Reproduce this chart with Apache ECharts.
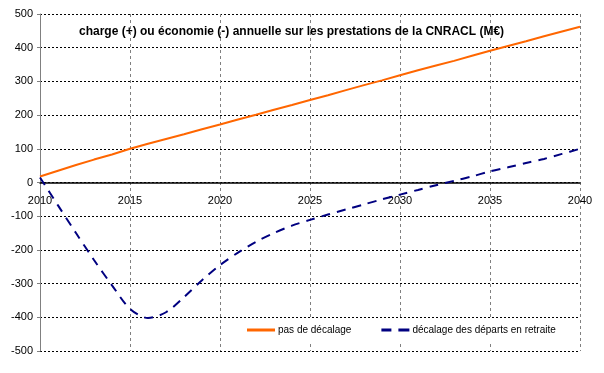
<!DOCTYPE html>
<html><head><meta charset="utf-8">
<script src="https://cdn.jsdelivr.net/npm/echarts@6/dist/echarts.min.js"></script>
<style>html,body{margin:0;padding:0;background:#fff}#c{width:604px;height:373px}</style>
</head><body><div id="c"></div>
<script>
const years = [2010,2011,2012,2013,2014,2015,2016,2017,2018,2019,2020,2021,2022,2023,2024,2025,2026,2027,2028,2029,2030,2031,2032,2033,2034,2035,2036,2037,2038,2039,2040];
const pasDecalage = [18,35,52,68,83,100,115,129,143,158,172,187,201,216,230,245,259,274,289,303,318,333,347,361,376,391,405,419,434,448,462];
const decalageDeparts = [15,-68,-150,-230,-305,-375,-402,-385,-340,-290,-245,-208,-176,-150,-128,-111,-95,-80,-65,-50,-36,-22,-8,5,18,33,45,58,70,85,100];
const yTicks = [-500,-400,-300,-200,-100,0,100,200,300,400,500];
const seriesNames = ['pas de décalage','décalage des départs en retraite'];
const titleText = 'charge (+) ou économie (-) annuelle sur les prestations de la CNRACL (M€)';

const chart = echarts.init(document.getElementById('c'), null, {renderer:'canvas'});
const font = 'Arial, "Liberation Sans", sans-serif';
const plotH = 373 - 14 - 22;
const zeroOffset = -plotH * (0 - yTicks[0]) / (yTicks[yTicks.length-1] - yTicks[0]);
chart.setOption({
  animation:false,
  backgroundColor:'#fff',
  grid:{left:40,right:24,top:14,bottom:22,containLabel:false},
  title:{text:titleText,left:74,top:21,textStyle:{fontFamily:font,fontSize:12,fontWeight:'bold',color:'#000'}},
  legend:{
    left:235, top:319, width:345, height:16,
    padding:[6,12,6,12],
    backgroundColor:'#fff',
    itemWidth:28, itemHeight:3, itemGap:30,
    textStyle:{fontFamily:font,fontSize:10,color:'#000',padding:[0,0,0,-2]},
    data:[
      {name:seriesNames[0],icon:'rect',itemStyle:{color:'#FF6600'}},
      {name:seriesNames[1],icon:'path://M0,0h10v3h-10z M17,0h11v3h-11z',itemStyle:{color:'#000080'}}
    ]
  },
  xAxis:{type:'value',min:2010,max:2040,interval:5,
    offset:zeroOffset,
    axisLine:{onZero:false,lineStyle:{color:'#000',width:1.5}},
    axisTick:{show:false},
    axisLabel:{fontFamily:font,fontSize:11,color:'#000',margin:13,formatter:v=>String(v)},
    splitLine:{show:true,lineStyle:{color:'#808080',type:[3,3],width:1}}
  },
  yAxis:{type:'value',min:-500,max:500,interval:100,
    axisLine:{show:true,onZero:false,lineStyle:{color:'#808080',width:1}},
    axisTick:{show:true,length:3,lineStyle:{color:'#808080'}},
    axisLabel:{fontFamily:font,fontSize:11,color:'#000',margin:7,
      formatter:v=>yTicks.includes(v)?String(v):''},
    splitLine:{show:true,lineStyle:{color:'#000',type:[2,2],width:1}}
  },
  series:[
    {name:seriesNames[0],type:'line',symbol:'none',
     data:years.map((y,i)=>[y,pasDecalage[i]]),
     lineStyle:{color:'#FF6600',width:2},itemStyle:{color:'#FF6600'}},
    {name:seriesNames[1],type:'line',symbol:'none',smooth:0.3,
     data:years.map((y,i)=>[y,decalageDeparts[i]]),
     lineStyle:{color:'#000080',width:2,type:[9,7]},itemStyle:{color:'#000080'}}
  ]
});
</script></body></html>
